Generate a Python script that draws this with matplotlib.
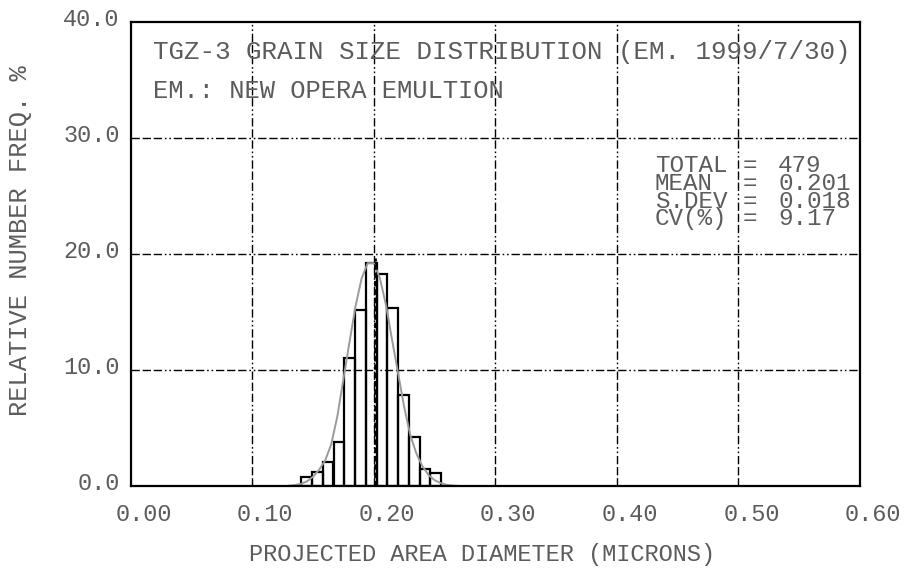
import matplotlib
matplotlib.use("Agg")
import matplotlib.pyplot as plt
import matplotlib.transforms as mtransforms

# histogram (relative number freq. %, per bin)
bin_centers = [0.1447, 0.1536, 0.1624, 0.1713, 0.1801, 0.1890, 0.1979,
               0.2067, 0.2156, 0.2244, 0.2333, 0.2422, 0.2510]
bin_width = 0.00886
freq_pct = [0.75, 1.18, 2.04, 3.82, 11.0, 15.2, 19.2,
            18.3, 15.3, 7.84, 4.2, 1.47, 1.15]

# fitted curve, points
curve_x = [0.130, 0.135, 0.140, 0.145, 0.150, 0.155, 0.160, 0.165, 0.170,
           0.175, 0.180, 0.185, 0.190, 0.195, 0.200, 0.205, 0.210, 0.215,
           0.220, 0.225, 0.230, 0.235, 0.240, 0.245, 0.250, 0.255, 0.260,
           0.265, 0.270]
curve_y = [0.03, 0.08, 0.18, 0.40, 0.80, 1.40, 2.20, 3.60, 6.00,
           9.20, 12.4, 15.5, 17.9, 19.2, 19.2, 17.9, 15.6, 12.6,
           9.70, 6.80, 4.40, 2.80, 1.70, 0.95, 0.50, 0.25, 0.10,
           0.04, 0.01]

mean_value = 0.201
mean_line_top = 19.6

stat_names = ["TOTAL", "MEAN", "S.DEV", "CV(%)"]
stat_values = ["479", "0.201", "0.018", "9.17"]

x_ticks = [0.0, 0.1, 0.2, 0.3, 0.4, 0.5, 0.6]
x_tick_labels = ["0.00", "0.10", "0.20", "0.30", "0.40", "0.50", "0.60"]
y_ticks = [0, 10, 20, 30, 40]
y_tick_labels = ["0.0", "10.0", "20.0", "30.0", "40.0"]

FONT = "Liberation Mono"
TXT = "#5c5c5c"
GRID_DASH = (6, 2, 6, 2, 6, 2, 1.2, 2, 1.2, 2)

fig = plt.figure(figsize=(9.07, 5.69), dpi=100)
ax = fig.add_axes([0.1441, 0.1459, 0.8041, 0.8160])

ax.set_xlim(0, 0.6)
ax.set_ylim(0, 40)

# grid
for xv in x_ticks[1:-1]:
    ax.axvline(xv, color="black", lw=1.0, dashes=GRID_DASH, zorder=1)
for yv in y_ticks[1:-1]:
    ax.axhline(yv, color="black", lw=1.0, dashes=GRID_DASH, zorder=1)

ax.bar(bin_centers, freq_pct, width=bin_width, fill=False,
       edgecolor="black", linewidth=1.6, zorder=3)
ax.plot(curve_x, curve_y, color="#9a9a9a", lw=1.4, zorder=4)
ax.plot([mean_value, mean_value], [0, mean_line_top], color="black",
        lw=2.0, dashes=(2, 1), zorder=5)

for sp in ax.spines.values():
    sp.set_linewidth(1.6)
    sp.set_zorder(6)

ax.set_xticks(x_ticks)
ax.set_xticklabels(x_tick_labels, fontfamily=FONT, fontsize=17, color=TXT)
ax.set_yticks(y_ticks)
ax.set_yticklabels(y_tick_labels, fontfamily=FONT, fontsize=17, color=TXT)
ax.tick_params(axis="x", length=0, pad=12)
ax.tick_params(axis="y", length=0, pad=8)

dx = mtransforms.ScaledTranslation(13 / 100, 0, fig.dpi_scale_trans)
for lab in ax.get_xticklabels():
    lab.set_transform(lab.get_transform() + dx)
dy = mtransforms.ScaledTranslation(0, 4.5 / 100, fig.dpi_scale_trans)
for lab in ax.get_yticklabels():
    lab.set_transform(lab.get_transform() + dy)

fig.text(482 / 907, 1 - 555 / 569, "PROJECTED AREA DIAMETER (MICRONS)",
         ha="center", va="center", fontfamily=FONT, fontsize=17, color=TXT)
fig.text(20 / 907, 1 - 241 / 569, "RELATIVE NUMBER FREQ. %", rotation=90,
         ha="center", va="center", fontfamily=FONT, fontsize=18.3, color=TXT)

fig.text(153 / 907, 1 - 52.5 / 569, "TGZ-3 GRAIN SIZE DISTRIBUTION (EM. 1999/7/30)",
         ha="left", va="center", fontfamily=FONT, fontsize=18.6, color=TXT)
fig.text(153 / 907, 1 - 91 / 569, "EM.: NEW OPERA EMULTION",
         ha="left", va="center", fontfamily=FONT, fontsize=18.4, color=TXT)

for i, (name, val) in enumerate(zip(stat_names, stat_values)):
    yc = 1 - (166 + i * 17.6) / 569
    fig.text(655 / 907, yc, name, ha="left", va="center",
             fontfamily=FONT, fontsize=17.5, color=TXT)
    fig.text(743 / 907, yc, "=", ha="left", va="center",
             fontfamily=FONT, fontsize=17.5, color=TXT)
    fig.text(778 / 907, yc, val, ha="left", va="center",
             fontfamily=FONT, fontsize=17.5, color=TXT)

fig.savefig("out.png", dpi=100)
